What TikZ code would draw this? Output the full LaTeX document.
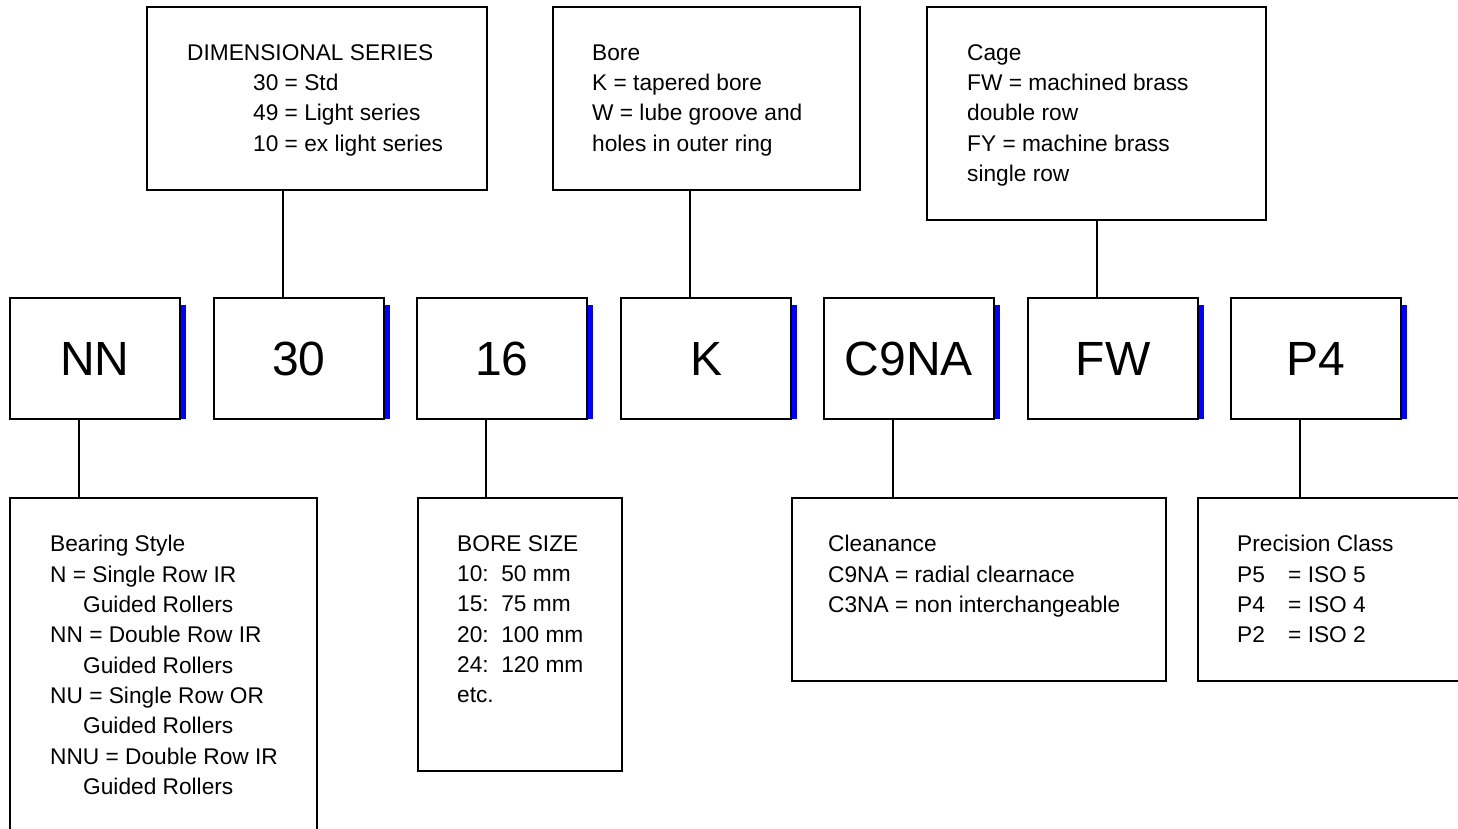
\documentclass[tikz,border=0pt]{standalone}
\usepackage{fontspec}
\setmainfont{Liberation Sans}

\tikzset{
  codebox/.style={draw, line width=1.2pt, outer sep=0pt, inner sep=0pt, anchor=north west,
    minimum width=170pt, minimum height=121pt, font=\fontsize{48}{56}\selectfont},
  infobox/.style={draw, line width=2pt, outer sep=0pt, anchor=north west},
  infotext/.style={anchor=north west, inner sep=0pt, align=left,
    font=\fontsize{22.7}{30.3}\selectfont, execute at begin node=\strut},
  blueedge/.style={fill=blue},
  link/.style={line width=2pt},
}

\begin{document}
\begin{tikzpicture}[x=1pt,y=-1pt]
  \useasboundingbox (0,0) rectangle (1458,829);
  \clip (0,0) rectangle (1458,829);
  % Code boxes
  \node[codebox] (nn) at (10,298) {NN};
  \node[codebox, line width=2.6pt] (ser) at (214,298) {30};
  \node[codebox] (bsz) at (417,298) {16};
  \node[codebox] (bt) at (621,298) {K};
  \node[codebox] (clr) at (824,298) {C9NA};
  \node[codebox] (cg) at (1028,298) {FW};
  \node[codebox] (pc) at (1231,298) {P4};
  \foreach \b in {nn,ser,bsz,bt,clr,cg,pc}
    \fill[blueedge] ([xshift=0.7pt,yshift=-7pt]\b.north east) rectangle ([xshift=5.5pt]\b.south east);
  % Boxes above
  \node[infobox, minimum width=340pt, minimum height=183pt] (serinfo) at (147,7) {};
  \node[infobox, minimum width=307pt, minimum height=183pt] (boreinfo) at (553,7) {};
  \node[infobox, minimum width=339pt, minimum height=213pt] (cageinfo) at (927,7) {};
  \node[infotext] (sertxt) at (187,44.3) {DIMENSIONAL SERIES\\
    \hspace*{66pt}30 = Std\\ \hspace*{66pt}49 = Light series\\ \hspace*{66pt}10 = ex light series};
  \node[infotext] (boretxt) at (592,44.3) {Bore\\ K = tapered bore\\ W = lube groove and\\ holes in outer ring};
  \node[infotext] (cagetxt) at (967,44.3) {Cage\\ FW = machined brass\\ double row\\ FY = machine brass\\ single row};
  % Boxes below
  \node[infobox, minimum width=307pt, minimum height=360pt] (styleinfo) at (10,498) {};
  \node[infobox, minimum width=204pt, minimum height=273pt] (sizeinfo) at (418,498) {};
  \node[infobox, minimum width=374pt, minimum height=183pt] (clrinfo) at (792,498) {};
  \node[infobox, minimum width=282pt, minimum height=183pt] (pcinfo) at (1198,498) {};
  \node[infotext] (styletxt) at (50,535.3) {Bearing Style\\ N = Single Row IR\\ \hspace*{33pt}Guided Rollers\\
    NN = Double Row IR\\ \hspace*{33pt}Guided Rollers\\ NU = Single Row OR\\ \hspace*{33pt}Guided Rollers\\
    NNU = Double Row IR\\ \hspace*{33pt}Guided Rollers};
  \node[infotext] (sizetxt) at (457,535.3) {BORE SIZE\\ 10:\ \ 50 mm\\ 15:\ \ 75 mm\\ 20:\ \ 100 mm\\ 24:\ \ 120 mm\\ etc.};
  \node[infotext] (clrtxt) at (828,535.3) {Cleanance\\ C9NA = radial clearnace\\ C3NA = non interchangeable};
  \node[infotext] (pctxt) at (1237,535.3) {Precision Class\\ \makebox[51pt][l]{P5}= ISO 5\\
    \makebox[51pt][l]{P4}= ISO 4\\ \makebox[51pt][l]{P2}= ISO 2};
  % Connectors
  \draw[link] ([xshift=-34pt]serinfo.south) -- ([xshift=-16pt]ser.north);
  \draw[link] ([xshift=-16.5pt]boreinfo.south) -- ([xshift=-16pt]bt.north);
  \draw[link] ([xshift=0.5pt]cageinfo.south) -- ([xshift=-16pt]cg.north);
  \draw[link] ([xshift=-16pt]nn.south) -- ([xshift=-84.5pt]styleinfo.north);
  \draw[link] ([xshift=-16pt]bsz.south) -- ([xshift=-34pt]sizeinfo.north);
  \draw[link] ([xshift=-16pt]clr.south) -- ([xshift=-86pt]clrinfo.north);
  \draw[link] ([xshift=-16pt]pc.south) -- ([xshift=-39pt]pcinfo.north);
\end{tikzpicture}
\end{document}
